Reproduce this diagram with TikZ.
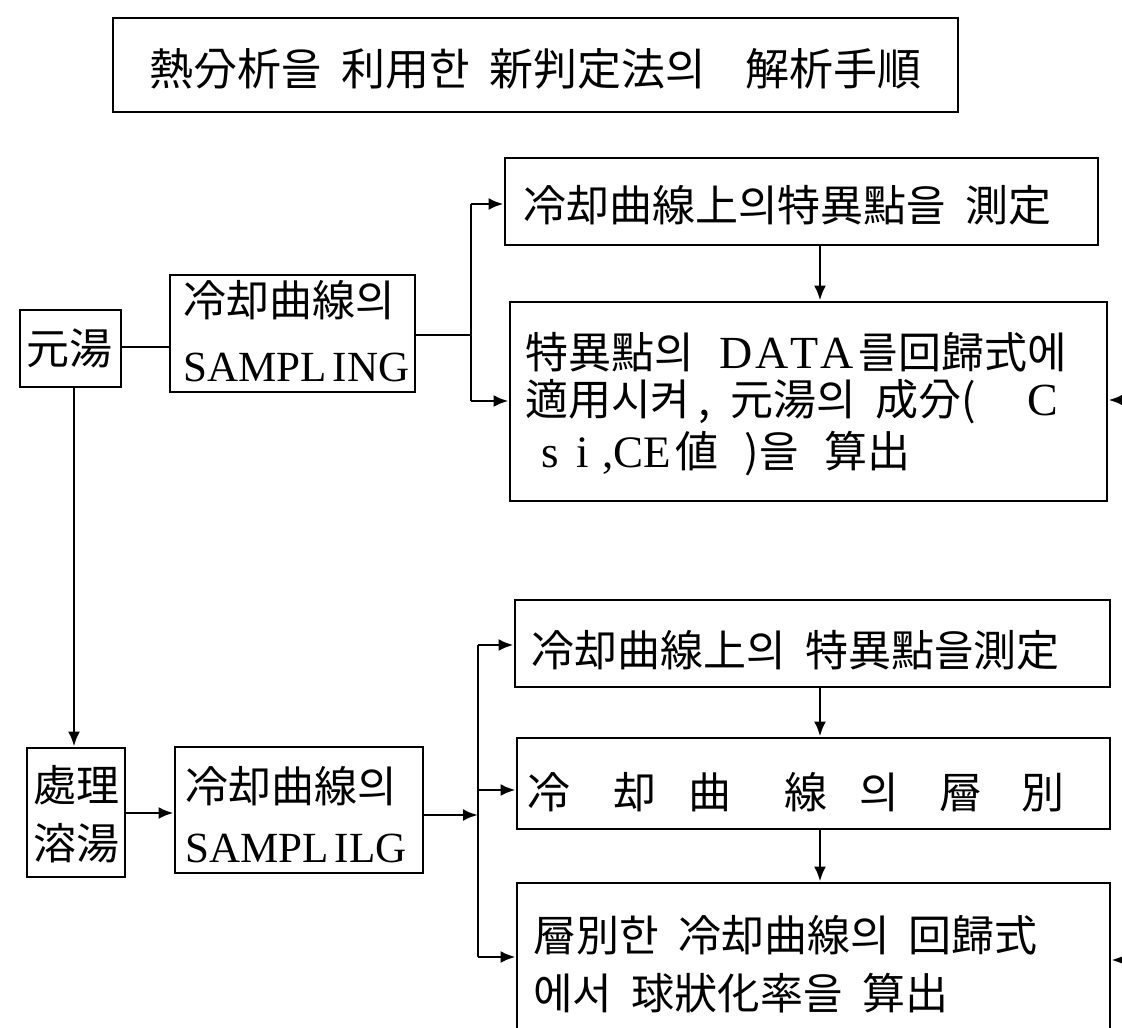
\documentclass[tikz,border=0pt]{standalone}
\usepackage{fontspec}
\setmainfont{Noto Sans CJK KR}
\newfontfamily\lat{Liberation Serif}
\usetikzlibrary{arrows.meta,fit}
\newcommand\gap{\hspace{0.45em}}
\tikzset{
  box/.style={draw, line width=2.8pt, inner sep=0pt},
  txt/.style={inner sep=0pt, anchor=west, font=\fontsize{43}{43}\selectfont},
  ctxt/.style={inner sep=0pt, font=\fontsize{43}{43}\selectfont},
  conn/.style={line width=2.8pt},
  arr/.style={conn, -{Latex[length=15pt,width=12pt]}},
}
\begin{document}
\begin{tikzpicture}[x=1pt,y=-1pt]
\useasboundingbox (0,0) rectangle (1122,1028);
\clip (0,0) rectangle (1122,1028);
% boxes
\node[box, fit={(113,18) (958,112)}] (title) {};
\node[box, fit={(20,310) (121,387)}] (yt) {};
\node[box, fit={(170,275) (415,392)}] (s1) {};
\node[box, fit={(505,158) (1098,245)}] (b1) {};
\node[box, fit={(510,302) (1107,501)}] (b2) {};
\node[box, fit={(27,748) (125,877)}] (pl) {};
\node[box, fit={(175,747) (423,873)}] (s2) {};
\node[box, fit={(515,600) (1110,687)}] (b3) {};
\node[box, fit={(517,738) (1110,829)}] (b4) {};
\node[box, fit={(517,883) (1110,1060)}] (b5) {};
% texts
\node[txt, font=\fontsize{44}{44}\selectfont] (tt) at (149,69) {熱分析을\gap 利用한\gap 新判定法의\gap\gap 解析手順};
\node[ctxt] (ytt) at (70,348) {元湯};
\node[txt] (s1a) at (183,300) {冷却曲線의};
\node[txt] (s1b) at (183,367) {\lat SAMPL\hspace{0.15em}ING};
\node[txt] (b1t) at (523,205) {冷却曲線上의特異點을\gap 測定};
\node[txt] (b2a) at (525,352) {特異點의\gap\hspace{0.15em}{\lat\fontsize{46}{46}\selectfont D\hspace{0.05em}A\hspace{0.05em}T\hspace{0.05em}A}\hspace{0.1em}를回歸式에};
\node[txt] (b2b) at (525,402) {適用시켜\hspace{0.2em},\gap 元湯의\gap 成分(\hspace{1.2em}{\lat\fontsize{46}{46}\selectfont C}};
\node[txt] (b2c) at (541,454) {{\lat\fontsize{45}{45}\selectfont s\hspace{0.4em}i\hspace{0.3em},CE}\hspace{0.1em}値\hspace{0.6em})을\hspace{0.6em}算出};
\node[ctxt] (plt1) at (76,785) {處理};
\node[ctxt] (plt2) at (76,843) {溶湯};
\node[txt] (s2a) at (185,786) {冷却曲線의};
\node[txt] (s2b) at (185,848) {\lat SAMPL\hspace{0.15em}ILG};
\node[txt] (b3t) at (531,650) {冷却曲線上의\gap 特異點을測定};
\node[txt] (b4t) at (527,792) {冷\hspace{43pt}却\hspace{32pt}曲\hspace{53pt}線\hspace{32pt}의\hspace{41pt}層\hspace{39pt}別};
\node[txt] (b5a) at (533,935) {層別한\gap 冷却曲線의\gap 回歸式};
\node[txt] (b5b) at (533,993) {에서\gap 球狀化率을\gap 算出};
% junction coordinates
\coordinate (j1) at (471,335);
\coordinate (j2) at (478,815);
\coordinate (e1) at (1126,400);
\coordinate (e2) at (1126,960);
% upper connectors
\draw[conn] (yt.east |- 0,347) -- (s1.west |- 0,347);
\draw[conn] (s1.east |- j1) -- (j1);
\draw[conn] (j1 |- 0,204) -- (j1 |- 0,401);
\draw[arr] (j1 |- 0,204) -- (b1.west |- 0,204);
\draw[arr] (j1 |- 0,401) -- (b2.west |- 0,401);
\draw[arr] (b1.south -| 820,0) -- (b2.north -| 820,0);
\draw[arr] (e1) -- (b2.east |- e1);
% left vertical
\draw[arr] (yt.south -| 74,0) -- (pl.north -| 74,0);
% lower connectors
\draw[arr] (pl.east |- 0,813) -- (s2.west |- 0,813);
\draw[arr] (s2.east |- j2) -- (j2);
\draw[conn] (j2 |- 0,645) -- (j2 |- 0,957);
\draw[arr] (j2 |- 0,645) -- (b3.west |- 0,645);
\draw[arr] (j2 |- 0,790) -- (b4.west |- 0,790);
\draw[arr] (j2 |- 0,957) -- (b5.west |- 0,957);
\draw[arr] (b3.south -| 820,0) -- (b4.north -| 820,0);
\draw[arr] (b4.south -| 820,0) -- (b5.north -| 820,0);
\draw[arr] (e2) -- (b5.east |- e2);
\end{tikzpicture}
\end{document}
